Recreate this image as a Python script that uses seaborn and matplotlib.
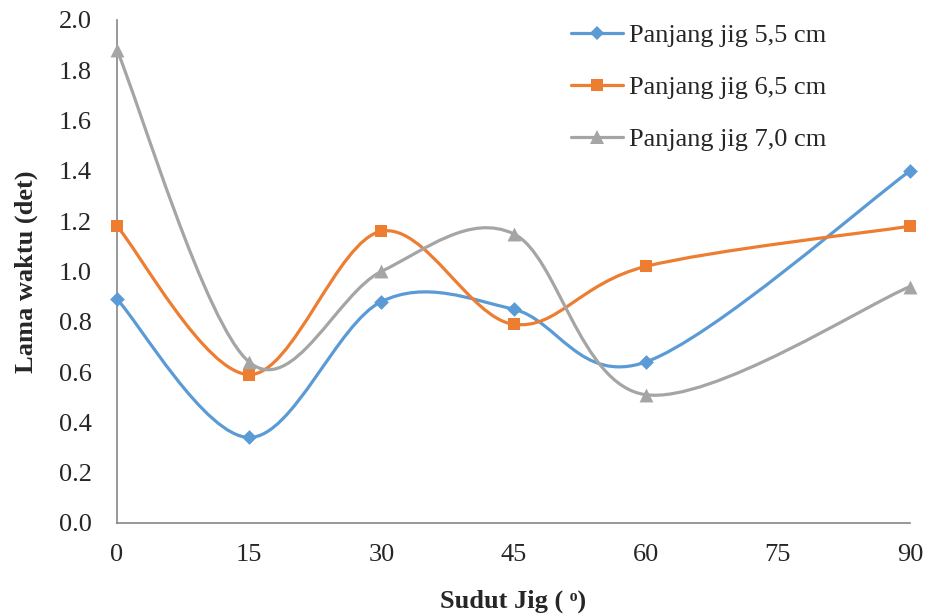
import numpy as np
import pandas as pd
import matplotlib
matplotlib.use("Agg")
import matplotlib.pyplot as plt
import seaborn as sns
from matplotlib.path import Path
from matplotlib.patches import PathPatch
from matplotlib.lines import Line2D

# data
sudut = [0, 15, 30, 45, 60, 90]
jig_55 = [0.89, 0.34, 0.88, 0.85, 0.64, 1.40]
jig_65 = [1.18, 0.59, 1.16, 0.79, 1.02, 1.18]
jig_70 = [1.88, 0.64, 1.00, 1.15, 0.51, 0.94]
nama_seri = ["Panjang jig 5,5 cm", "Panjang jig 6,5 cm", "Panjang jig 7,0 cm"]
x_ticks = [0, 15, 30, 45, 60, 75, 90]
y_ticks = [0.0, 0.2, 0.4, 0.6, 0.8, 1.0, 1.2, 1.4, 1.6, 1.8, 2.0]

warna = ["#5B9BD5", "#ED7D31", "#A5A5A5"]
penanda = ["D", "s", "^"]
ukuran = [7.5, 9, 10]

df = pd.DataFrame({
    "sudut": sudut * 3,
    "waktu": jig_55 + jig_65 + jig_70,
    "seri": [n for n in nama_seri for _ in sudut],
})

sns.set_style("white")
plt.rcParams["font.family"] = ["Liberation Serif", "DejaVu Serif"]


def garis_halus(ax, xs, ys, color):
    # smoothed line like Excel (Catmull-Rom as cubic Bezier)
    pts = np.column_stack([xs, ys]).astype(float)
    n = len(pts)
    verts = [pts[0]]
    codes = [Path.MOVETO]
    for i in range(n - 1):
        p0 = pts[i - 1] if i > 0 else pts[i]
        p1 = pts[i]
        p2 = pts[i + 1]
        p3 = pts[i + 2] if i + 2 < n else pts[i + 1]
        c1 = p1 + (p2 - p0) / 6
        c2 = p2 - (p3 - p1) / 6
        verts += [c1, c2, p2]
        codes += [Path.CURVE4] * 3
    patch = PathPatch(Path(verts, codes), facecolor="none", edgecolor=color,
                      lw=2.3, capstyle="round", joinstyle="round", zorder=2,
                      clip_on=False)
    ax.add_patch(patch)


fig = plt.figure(figsize=(9.27, 6.16), dpi=100)
ax = fig.add_axes([0.1262, 0.151, 0.8555, 0.8166])

for nama, w, m, s in zip(nama_seri, warna, penanda, ukuran):
    sub = df[df["seri"] == nama]
    garis_halus(ax, sub["sudut"].values, sub["waktu"].values, w)
    sns.scatterplot(data=sub, x="sudut", y="waktu", ax=ax, color=w, marker=m,
                    s=s ** 2, edgecolor=w, linewidth=0, zorder=3, legend=False,
                    clip_on=False)

ax.set_xlim(0, 90)
ax.set_ylim(0, 2.0)
ax.set_xticks(x_ticks)
ax.set_yticks(y_ticks)
ax.set_yticklabels([f"{v:.1f}" for v in y_ticks])
ax.tick_params(axis="both", direction="out", length=6, width=1, color="#868686",
               labelsize=19)
ax.tick_params(axis="y", pad=12)
ax.tick_params(axis="x", pad=9)
for sp in ["top", "right"]:
    ax.spines[sp].set_visible(False)
for sp in ["left", "bottom"]:
    ax.spines[sp].set_color("#868686")
    ax.spines[sp].set_linewidth(1.2)

ax.set_xlabel("Sudut Jig ( ᵒ)", fontsize=19, fontweight="bold", labelpad=17)
ax.set_ylabel("Lama waktu (det)", fontsize=19, fontweight="bold", labelpad=15)

handles = [Line2D([0], [0], color=w, lw=2.3, marker=m, markersize=s,
                  markeredgewidth=0)
           for w, m, s in zip(warna, penanda, ukuran)]
fig.legend(handles, nama_seri, loc="upper left", bbox_to_anchor=(0.59, 1.0),
           frameon=False, fontsize=19, handlelength=2.0, handletextpad=0.2,
           labelspacing=1.08)

fig.savefig("out.png", dpi=100)
